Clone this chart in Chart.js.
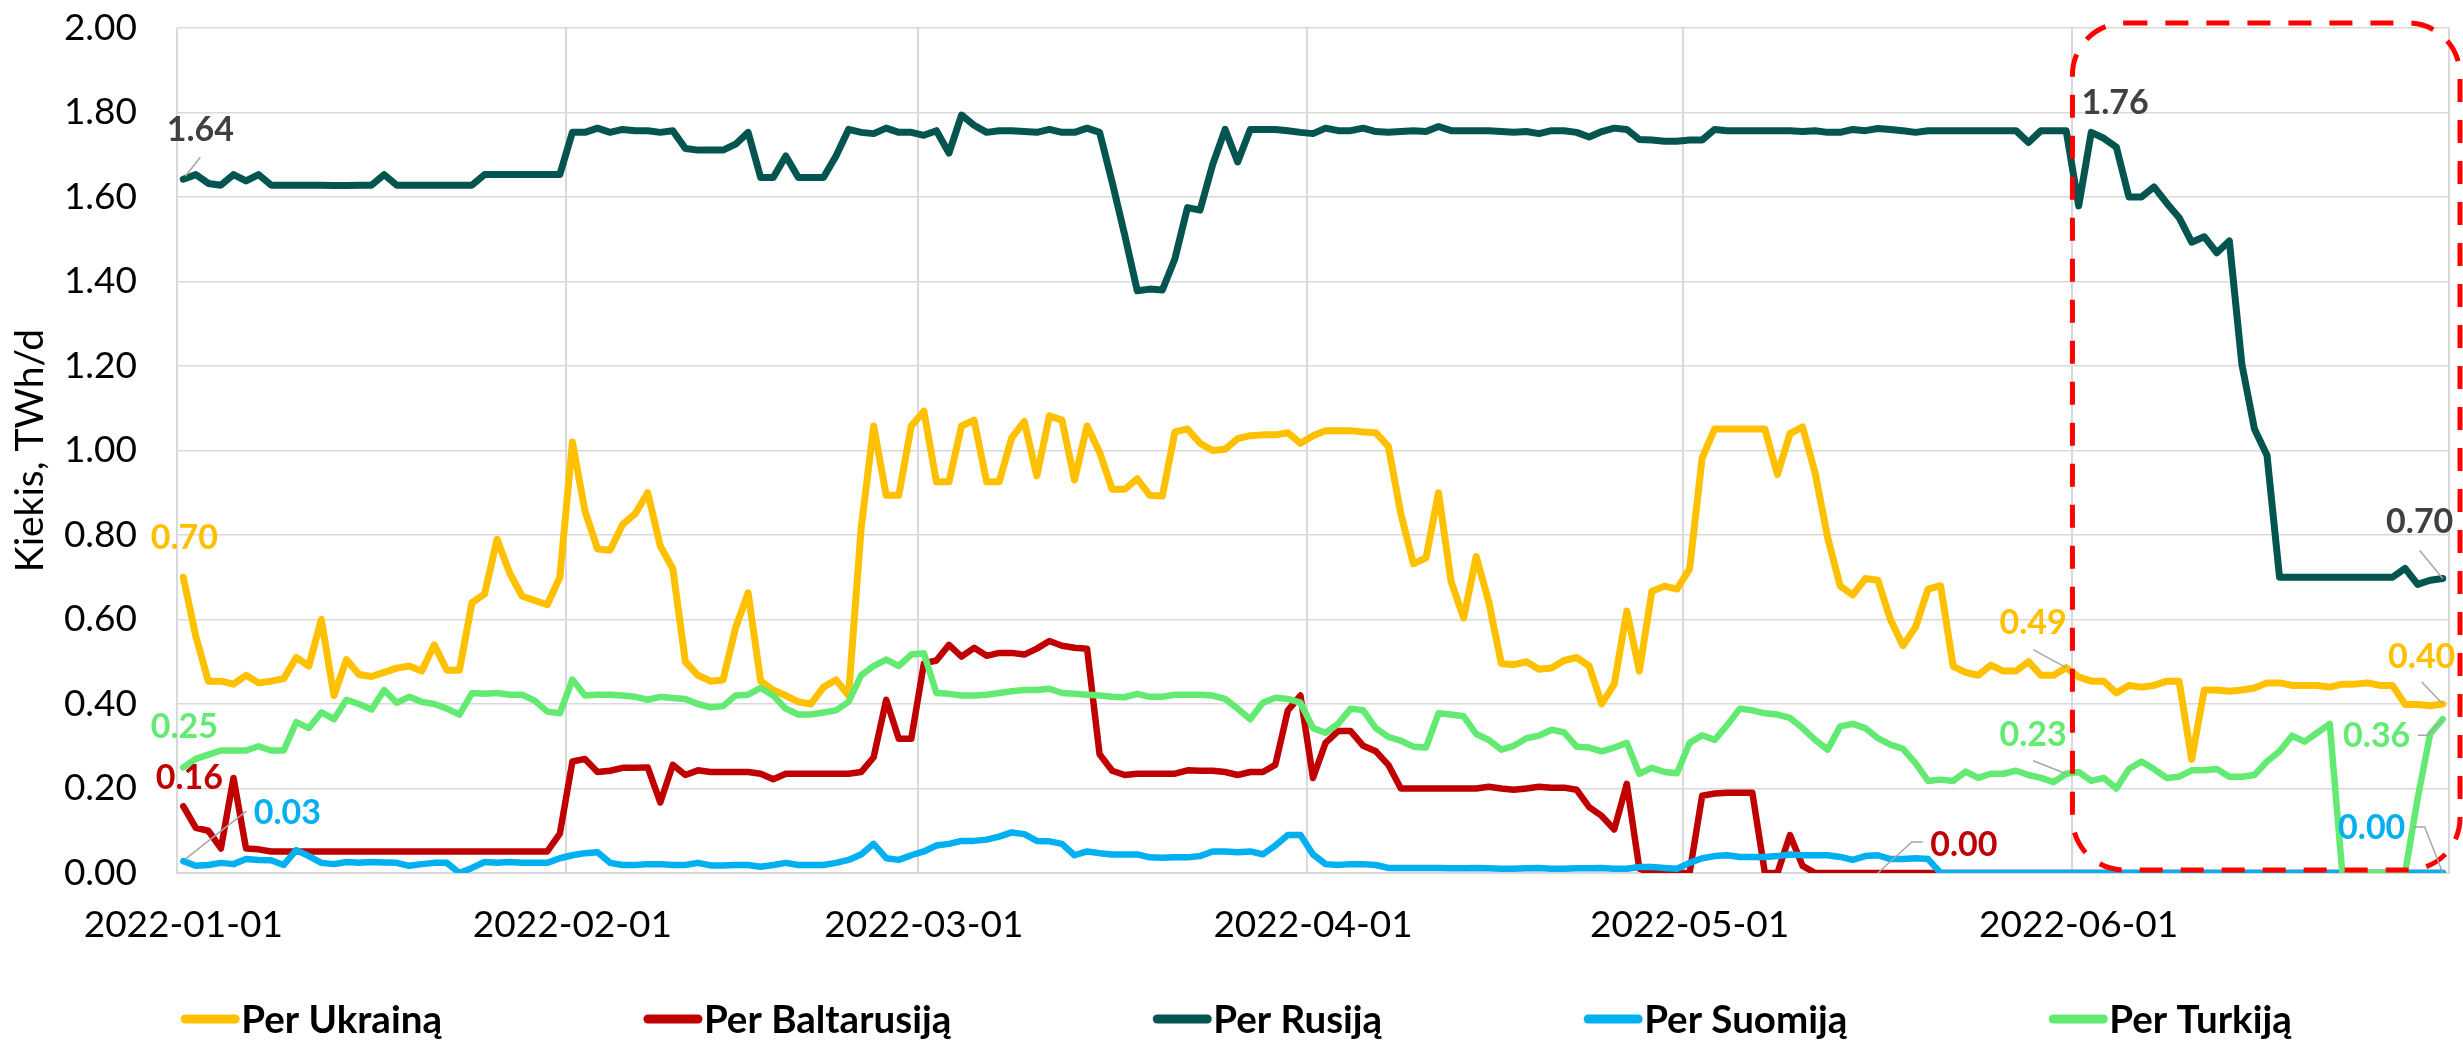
<!DOCTYPE html>
<html>
<head>
<meta charset="utf-8">
<script src="https://cdn.jsdelivr.net/npm/chart.js@4.4.1/dist/chart.umd.min.js"></script>
<style>
  html, body { margin: 0; padding: 0; background: #fff; }
</style>
</head>
<body>
<canvas id="grafikas" width="2463" height="1040"></canvas>
<script>
// datos: kiekviena 2022 m. sausio 1 - birželio 30 diena
const datos = [];
for (let d = new Date(Date.UTC(2022, 0, 1)); d <= new Date(Date.UTC(2022, 5, 30)); d.setUTCDate(d.getUTCDate() + 1)) {
    datos.push(d.toISOString().slice(0, 10));
}

const ukraina = [
    0.70,0.56,0.454,0.454,0.447,0.468,0.45,0.454,0.46,0.51,
    0.49,0.60,0.42,0.505,0.47,0.465,0.475,0.485,0.49,0.478,
    0.54,0.48,0.48,0.64,0.66,0.79,0.71,0.655,0.645,0.635,
    0.70,1.02,0.857,0.767,0.764,0.825,0.85,0.90,0.774,0.72,
    0.50,0.468,0.454,0.457,0.58,0.663,0.454,0.433,0.42,0.405,
    0.40,0.44,0.457,0.42,0.815,1.058,0.894,0.894,1.058,1.093,
    0.926,0.926,1.058,1.072,0.926,0.926,1.03,1.069,0.94,1.082,
    1.072,0.93,1.058,0.996,0.908,0.908,0.933,0.894,0.892,1.044,
    1.051,1.017,1.0,1.003,1.028,1.035,1.037,1.037,1.042,1.017,
    1.035,1.047,1.047,1.047,1.044,1.042,1.01,0.85,0.732,0.746,
    0.90,0.69,0.603,0.749,0.642,0.496,0.493,0.50,0.482,0.485,
    0.503,0.51,0.49,0.40,0.447,0.62,0.478,0.667,0.679,0.672,
    0.72,0.982,1.051,1.051,1.051,1.051,1.051,0.943,1.04,1.056,
    0.947,0.794,0.679,0.658,0.697,0.693,0.60,0.538,0.582,0.672,
    0.68,0.489,0.475,0.468,0.492,0.478,0.478,0.50,0.468,0.468,
    0.486,0.464,0.454,0.454,0.426,0.444,0.44,0.444,0.454,0.454,
    0.269,0.433,0.433,0.43,0.433,0.438,0.45,0.45,0.444,0.444,
    0.444,0.44,0.447,0.447,0.45,0.444,0.444,0.399,0.399,0.396,
    0.40
];
const baltarusija = [
    0.158,0.107,0.10,0.058,0.225,0.058,0.056,0.051,0.051,0.051,
    0.051,0.051,0.051,0.051,0.051,0.051,0.051,0.051,0.051,0.051,
    0.051,0.051,0.051,0.051,0.051,0.051,0.051,0.051,0.051,0.051,
    0.093,0.264,0.27,0.239,0.242,0.249,0.249,0.25,0.167,0.256,
    0.232,0.243,0.239,0.239,0.239,0.239,0.235,0.222,0.235,0.235,
    0.235,0.235,0.235,0.235,0.239,0.274,0.41,0.318,0.318,0.496,
    0.503,0.54,0.512,0.533,0.514,0.521,0.521,0.517,0.531,0.549,
    0.538,0.533,0.531,0.281,0.242,0.232,0.235,0.235,0.235,0.235,
    0.243,0.242,0.242,0.239,0.232,0.239,0.239,0.256,0.385,0.42,
    0.225,0.308,0.336,0.336,0.301,0.288,0.256,0.20,0.20,0.20,
    0.20,0.20,0.20,0.20,0.204,0.20,0.197,0.20,0.204,0.202,
    0.202,0.197,0.156,0.135,0.103,0.211,0.01,0,0,0,
    0,0.183,0.188,0.19,0.19,0.19,0,0,0.09,0.017,
    0,0,0,0,0,0,0,0,0,0,
    0,0,0,0,0,0,0,0,0,0,
    0,0,0,0,0,0,0,0,0,0,
    0,0,0,0,0,0,0,0,0,0,
    0,0,0,0,0,0,0,0,0,0,
    0
];
const rusija = [
    1.642,1.653,1.632,1.628,1.653,1.638,1.653,1.628,1.628,1.628,
    1.628,1.628,1.627,1.627,1.628,1.628,1.653,1.628,1.628,1.628,
    1.628,1.628,1.628,1.628,1.653,1.653,1.653,1.653,1.653,1.653,
    1.653,1.753,1.753,1.763,1.753,1.76,1.757,1.757,1.753,1.757,
    1.715,1.711,1.711,1.711,1.725,1.753,1.646,1.646,1.697,1.646,
    1.646,1.646,1.697,1.76,1.753,1.75,1.763,1.753,1.753,1.746,
    1.757,1.704,1.794,1.77,1.753,1.757,1.757,1.755,1.753,1.76,
    1.753,1.753,1.763,1.753,1.635,1.51,1.378,1.382,1.38,1.454,
    1.575,1.569,1.676,1.76,1.683,1.76,1.76,1.76,1.757,1.753,
    1.75,1.763,1.757,1.757,1.763,1.755,1.753,1.755,1.757,1.755,
    1.767,1.757,1.757,1.757,1.757,1.755,1.753,1.755,1.75,1.757,
    1.757,1.753,1.742,1.755,1.763,1.76,1.736,1.735,1.732,1.732,
    1.735,1.735,1.76,1.757,1.757,1.757,1.757,1.757,1.757,1.755,
    1.757,1.753,1.753,1.76,1.757,1.762,1.76,1.757,1.753,1.757,
    1.757,1.757,1.757,1.757,1.757,1.757,1.757,1.729,1.757,1.757,
    1.757,1.579,1.753,1.739,1.718,1.60,1.60,1.624,1.586,1.551,
    1.493,1.506,1.468,1.496,1.204,1.051,0.989,0.70,0.70,0.70,
    0.70,0.70,0.70,0.70,0.70,0.70,0.70,0.721,0.683,0.693,
    0.697
];
const suomija = [
    0.028,0.017,0.019,0.024,0.021,0.033,0.031,0.03,0.019,0.054,
    0.04,0.024,0.021,0.026,0.024,0.026,0.025,0.024,0.017,0.021,
    0.024,0.024,0.0,0.012,0.026,0.024,0.026,0.024,0.024,0.024,
    0.035,0.042,0.047,0.049,0.024,0.019,0.019,0.021,0.021,0.019,
    0.019,0.024,0.018,0.018,0.019,0.019,0.015,0.019,0.024,0.019,
    0.019,0.019,0.024,0.031,0.044,0.069,0.035,0.031,0.042,0.051,
    0.065,0.069,0.076,0.076,0.079,0.086,0.096,0.092,0.076,0.075,
    0.069,0.042,0.051,0.047,0.044,0.044,0.044,0.037,0.036,0.037,
    0.037,0.04,0.051,0.051,0.049,0.051,0.044,0.065,0.09,0.09,
    0.044,0.021,0.019,0.021,0.021,0.019,0.012,0.012,0.012,0.012,
    0.012,0.011,0.011,0.012,0.011,0.01,0.01,0.011,0.012,0.01,
    0.01,0.011,0.011,0.012,0.01,0.01,0.014,0.014,0.012,0.01,
    0.024,0.035,0.04,0.042,0.038,0.038,0.038,0.04,0.044,0.042,
    0.042,0.042,0.038,0.031,0.04,0.042,0.033,0.033,0.035,0.033,
    0,0,0,0,0,0,0,0,0,0,
    0,0,0,0,0,0,0,0,0,0,
    0,0,0,0,0,0,0,0,0,0,
    0,0,0,0,0,0,0,0,0,0,
    0
];
const turkija = [
    0.25,0.27,0.28,0.29,0.29,0.29,0.30,0.29,0.29,0.357,
    0.343,0.38,0.364,0.41,0.40,0.387,0.433,0.403,0.417,0.405,
    0.40,0.389,0.375,0.426,0.424,0.426,0.422,0.422,0.408,0.382,
    0.378,0.458,0.42,0.422,0.422,0.42,0.417,0.41,0.417,0.414,
    0.412,0.40,0.392,0.395,0.42,0.422,0.438,0.42,0.389,0.375,
    0.375,0.38,0.385,0.405,0.468,0.49,0.505,0.49,0.517,0.52,
    0.426,0.424,0.42,0.42,0.422,0.426,0.43,0.433,0.433,0.436,
    0.426,0.424,0.422,0.42,0.417,0.416,0.424,0.417,0.417,0.422,
    0.422,0.422,0.42,0.412,0.389,0.364,0.403,0.415,0.412,0.403,
    0.343,0.332,0.353,0.389,0.385,0.343,0.322,0.313,0.299,0.297,
    0.378,0.375,0.371,0.329,0.315,0.292,0.301,0.319,0.325,0.339,
    0.333,0.299,0.297,0.288,0.297,0.308,0.235,0.249,0.239,0.236,
    0.308,0.326,0.315,0.35,0.389,0.385,0.378,0.375,0.367,0.343,
    0.315,0.292,0.347,0.353,0.343,0.319,0.304,0.294,0.26,0.218,
    0.221,0.218,0.24,0.225,0.235,0.235,0.242,0.232,0.225,0.215,
    0.235,0.239,0.218,0.225,0.20,0.246,0.264,0.246,0.225,0.228,
    0.243,0.243,0.246,0.228,0.228,0.232,0.264,0.288,0.325,0.311,
    0.332,0.353,0,0,0,0,0,0,0.176,0.329,
    0.364
];

const serijos = ['Per Ukrainą', 'Per Baltarusiją', 'Per Rusiją', 'Per Suomiją', 'Per Turkiją'];
const spalvos = ['#FFC000', '#C00000', '#04544F', '#00B0F0', '#62EA72'];
const reiksmes = [ukraina, baltarusija, rusija, suomija, turkija];

// reikšmių etiketės: serija, dienos indeksas, poslinkis nuo taško, rodyklės linija
const etiketes = [
    { ds: 2, i: 0, dx: 17, dy: -49, linija: [[2, -3], [17, -22]] },
    { ds: 0, i: 0, dx: 1, dy: -39 },
    { ds: 4, i: 0, dx: 1, dy: -40 },
    { ds: 1, i: 0, dx: 6, dy: -28 },
    { ds: 3, i: 0, dx: 104, dy: -48, linija: [[2, -2], [63, -50]] },
    { ds: 2, i: 150, dx: 49, dy: -28 },
    { ds: 0, i: 150, dx: -33, dy: -45, linija: [[0, 0], [-33, -18]] },
    { ds: 4, i: 150, dx: -33, dy: -39, linija: [[0, 0], [-33, -13]] },
    { ds: 1, i: 135, dx: 86, dy: -28, linija: [[0, 0], [34, -31], [45, -31]] },
    { ds: 2, i: 180, dx: -23, dy: -56, linija: [[0, 0], [-23, -28]] },
    { ds: 0, i: 180, dx: -21, dy: -47, linija: [[0, 0], [-21, -22]] },
    { ds: 4, i: 180, dx: -66, dy: 17, linija: [[0, 0], [-15, 16], [-25, 16]] },
    { ds: 3, i: 180, dx: -71, dy: -45, linija: [[0, 0], [-18, -46], [-30, -46]] }
];
const remelioPradzia = '2022-06-01';

Chart.defaults.font.family = 'Lato, "Open Sans", sans-serif';
Chart.defaults.color = '#000';

const etikeciuPlugin = {
    id: 'etiketes',
    afterDatasetsDraw(chart) {
        const c = chart.ctx;
        c.save();
        c.font = 'bold 34px Lato';
        c.textAlign = 'center';
        c.textBaseline = 'middle';
        etiketes.forEach(e => {
            const p = chart.getDatasetMeta(e.ds).data[e.i];
            if (e.linija) {
                c.beginPath();
                c.strokeStyle = '#A6A6A6';
                c.lineWidth = 1.5;
                e.linija.forEach((t, k) => k ? c.lineTo(p.x + t[0], p.y + t[1]) : c.moveTo(p.x + t[0], p.y + t[1]));
                c.stroke();
            }
            c.fillStyle = e.ds === 2 ? '#404040' : spalvos[e.ds];
            c.fillText(reiksmes[e.ds][e.i].toFixed(2), p.x + e.dx, p.y + e.dy);
        });
        c.restore();
    }
};

const remelisPlugin = {
    id: 'remelis',
    afterDatasetsDraw(chart) {
        const xs = chart.scales.x, ys = chart.scales.y;
        const i = datos.indexOf(remelioPradzia);
        const slot = xs.getPixelForValue(1) - xs.getPixelForValue(0);
        const left = xs.getPixelForValue(i) - slot / 2;
        const right = chart.width - 3;
        const top = ys.getPixelForValue(2) - 5;
        const bottom = ys.getPixelForValue(0) - 3;
        const c = chart.ctx;
        c.save();
        c.strokeStyle = '#FF0000';
        c.lineWidth = 5;
        c.setLineDash([23, 18]);
        c.beginPath();
        c.roundRect(left, top, right - left, bottom - top, 52);
        c.stroke();
        c.restore();
    }
};

const legendaPlugin = {
    id: 'legenda',
    afterDraw(chart) {
        const c = chart.ctx;
        c.save();
        c.font = 'bold 38.5px Lato';
        c.textBaseline = 'middle';
        const items = chart.data.datasets.map(ds => ({ t: ds.label, sp: ds.borderColor, w: 62 + c.measureText(ds.label).width }));
        const tarpas = 200;
        const viso = items.reduce((s, it) => s + it.w, 0) + tarpas * (items.length - 1);
        let x = chart.width / 2 - viso / 2 + 6;
        const y = chart.height - 21;
        items.forEach(it => {
            c.beginPath();
            c.strokeStyle = it.sp;
            c.lineWidth = 9;
            c.lineCap = 'round';
            c.moveTo(x + 4, y);
            c.lineTo(x + 54, y);
            c.stroke();
            c.fillStyle = '#000';
            c.fillText(it.t, x + 60, y + 2);
            x += it.w + tarpas;
        });
        c.restore();
    }
};

const ctx = document.getElementById('grafikas').getContext('2d');
new Chart(ctx, {
    type: 'line',
    data: {
        labels: datos,
        datasets: serijos.map((s, k) => ({
            label: s,
            data: reiksmes[k],
            borderColor: spalvos[k],
            backgroundColor: spalvos[k],
            borderWidth: (k === 0 || k === 2) ? 7 : 6.5,
            pointRadius: 0,
            tension: 0,
            borderJoinStyle: 'round',
            borderCapStyle: 'round',
            order: 5 - k
        }))
    },
    options: {
        responsive: false,
        devicePixelRatio: 1,
        animation: false,
        layout: { padding: { top: 0, right: 14, bottom: 93, left: 0 } },
        plugins: { legend: { display: false }, tooltip: { enabled: false } },
        scales: {
            x: {
                type: 'category',
                offset: true,
                grid: {
                    offset: true,
                    drawTicks: false,
                    lineWidth: 2,
                    color: (c) => (c.index === undefined || datos[c.index].endsWith('-01')) ? '#D9D9D9' : 'rgba(0,0,0,0)'
                },
                border: { color: '#D9D9D9', width: 2 },
                ticks: {
                    autoSkip: false,
                    maxRotation: 0,
                    minRotation: 0,
                    padding: 30,
                    font: { size: 37 },
                    callback: (v, i) => datos[i].endsWith('-01') ? datos[i] : ''
                },
                afterFit: (s) => { s.paddingLeft = 0; s.paddingRight = 0; s.height = 74; }
            },
            y: {
                min: 0,
                max: 2,
                grid: { color: '#D9D9D9', lineWidth: 1.5, drawTicks: false },
                border: { display: false },
                ticks: {
                    stepSize: 0.2,
                    padding: 40,
                    font: { size: 37 },
                    callback: v => v.toFixed(2)
                },
                title: {
                    display: true,
                    text: 'Kiekis, TWh/d',
                    font: { size: 39 },
                    padding: { top: 7, bottom: 10 }
                },
                afterFit: (s) => { s.width = 177; s.paddingTop = 28; s.paddingBottom = 0; }
            }
        }
    },
    plugins: [remelisPlugin, etikeciuPlugin, legendaPlugin]
});
</script>
</body>
</html>
